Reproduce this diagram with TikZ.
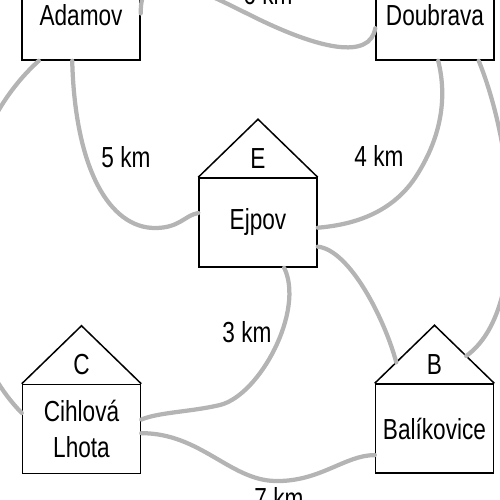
\documentclass[tikz,border=0pt]{standalone}
\usepackage{fontspec}
\setmainfont{Liberation Sans}[FakeStretch=0.78]
\usepackage{xcolor}
\usetikzlibrary{calc}
\definecolor{roadgray}{RGB}{180,180,180}

\begin{document}
\begin{tikzpicture}[
  x=0.2mm, y=-0.2mm,
  font=\fontsize{16.5}{20}\selectfont,
  town/.style={draw, line width=0.3mm, fill=white, align=center, inner sep=0pt, minimum width=23.6mm, minimum height=17.8mm},
  letter/.style={inner sep=0pt},
  road/.style={draw=roadgray, line width=0.85mm, line cap=round},
  dist/.style={inner sep=0pt}]
\useasboundingbox (0,0) rectangle (500,500);
\clip (0,0) rectangle (500,500);
\node[town] (adamov) at (81,15.5) {Adamov};
\node[town] (doubrava) at (435,15.5) {Doubrava};
\node[town] (ejpov) at (258,222.5) {Ejpov};
\node[town] (cihlova) at (81.5,429) {Cihlová\\Lhota};
\node[town] (balikovice) at (434.5,428.5) {Balíkovice};
% roofs
\foreach \t/\l in {ejpov/E, cihlova/C, balikovice/B}{
  \coordinate (\t-top) at ($(\t.north)+(0,-58)$);
  \draw[line width=0.3mm] (\t.north west) -- (\t-top) -- (\t.north east);
  \node[letter] (\t-letter) at ($(\t.north)+(0,-19)$) {\l};
}
% roads
\draw[road] (adamov.-133) .. controls (-60,150) and (-60,330) .. (cihlova.165);
\draw[road] (adamov.-101) .. controls (75,170) and (110,228) .. (155,228) .. controls (180,228) and (185,215) .. (ejpov.171);
\draw[road] (adamov.2) .. controls (140,-40) and (190,-15) .. (250,15) .. controls (320,50) and (370,60) .. (doubrava.-168);
\draw[road] (doubrava.-86) .. controls (448,100) and (440,140) .. (415,178) .. controls (390,215) and (350,225) .. (ejpov.-5);
\draw[road] (doubrava.-46) .. controls (515,150) and (530,310) .. ($(balikovice.north east)!.47!(balikovice-top)$);
\draw[road] (ejpov.-22) .. controls (350,250) and (385,320) .. ($(balikovice.north west)!.36!(balikovice-top)$);
\draw[road] (ejpov.-60) .. controls (305,310) and (260,395) .. (220,405) .. controls (190,412) and (160,412) .. (cihlova.9);
\draw[road] (cihlova.-4) .. controls (200,433) and (230,480) .. (275,481) .. controls (320,482) and (345,455) .. (balikovice.-156);
% distances
\node[dist] (d5) at (126,157) {5 km};
\node[dist] (d4) at (379,156) {4 km};
\node[dist] (d3) at (247,332) {3 km};
\node[dist] (d6) at (268,-6) {6 km};
\node[dist] (d7) at (279,498) {7 km};
\end{tikzpicture}
\end{document}
